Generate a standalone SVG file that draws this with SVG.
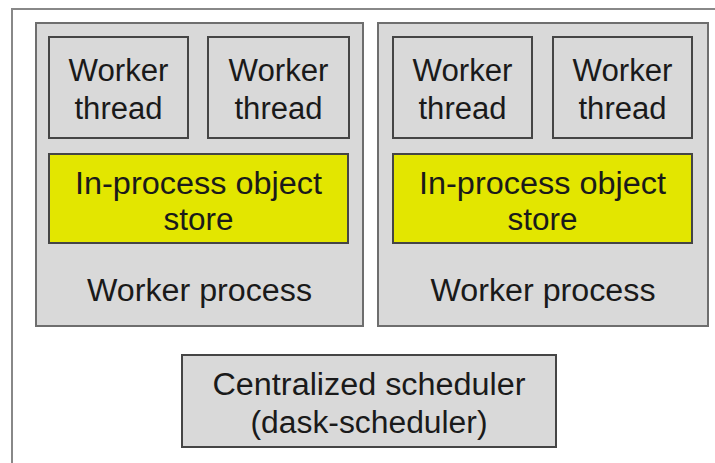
<svg xmlns="http://www.w3.org/2000/svg" width="715" height="463" viewBox="0 0 715 463">
<style>
.frame{fill:#ffffff;stroke:#888888;stroke-width:2}
.proc{fill:#d9d9d9;stroke:#6e6e6e;stroke-width:2}
.thr{fill:#d9d9d9;stroke:#454545;stroke-width:2}
.store{fill:#e3e600;stroke:#454545;stroke-width:2}
.sched{fill:#d9d9d9;stroke:#454545;stroke-width:2}
text{font-family:"Liberation Sans",Arial,sans-serif;font-size:31px;fill:#1a1a1a;text-anchor:middle}
</style>
<rect class="frame" x="12" y="9" width="720" height="470"/>
<g id="worker-process-1">
<rect class="proc" x="36" y="23" width="327" height="303"/>
<text x="199.5" y="301" textLength="225" lengthAdjust="spacingAndGlyphs">Worker process</text>
</g>
<g id="worker-thread-1">
<rect class="thr" x="49" y="37" width="139" height="101"/>
<text x="118.5" y="81" textLength="100" lengthAdjust="spacingAndGlyphs">Worker</text>
<text x="118.5" y="119" textLength="88" lengthAdjust="spacingAndGlyphs">thread</text>
</g>
<g id="worker-thread-2">
<rect class="thr" x="208" y="37" width="141" height="101"/>
<text x="278.5" y="81" textLength="100" lengthAdjust="spacingAndGlyphs">Worker</text>
<text x="278.5" y="119" textLength="88" lengthAdjust="spacingAndGlyphs">thread</text>
</g>
<g id="object-store-1">
<rect class="store" x="49" y="154" width="299" height="89"/>
<text x="198.5" y="194" textLength="247" lengthAdjust="spacingAndGlyphs">In-process object</text>
<text x="198.5" y="230" textLength="70" lengthAdjust="spacingAndGlyphs">store</text>
</g>
<g id="worker-process-2">
<rect class="proc" x="378" y="23" width="330" height="303"/>
<text x="543" y="301" textLength="225" lengthAdjust="spacingAndGlyphs">Worker process</text>
</g>
<g id="worker-thread-3">
<rect class="thr" x="393" y="37" width="139" height="101"/>
<text x="462.5" y="81" textLength="100" lengthAdjust="spacingAndGlyphs">Worker</text>
<text x="462.5" y="119" textLength="88" lengthAdjust="spacingAndGlyphs">thread</text>
</g>
<g id="worker-thread-4">
<rect class="thr" x="553" y="37" width="139" height="101"/>
<text x="622.5" y="81" textLength="100" lengthAdjust="spacingAndGlyphs">Worker</text>
<text x="622.5" y="119" textLength="88" lengthAdjust="spacingAndGlyphs">thread</text>
</g>
<g id="object-store-2">
<rect class="store" x="393" y="154" width="299" height="89"/>
<text x="542.5" y="194" textLength="247" lengthAdjust="spacingAndGlyphs">In-process object</text>
<text x="542.5" y="230" textLength="70" lengthAdjust="spacingAndGlyphs">store</text>
</g>
<g id="scheduler">
<rect class="sched" x="182" y="355" width="374" height="92"/>
<text x="369" y="395" textLength="313" lengthAdjust="spacingAndGlyphs">Centralized scheduler</text>
<text x="369" y="433" textLength="237" lengthAdjust="spacingAndGlyphs">(dask-scheduler)</text>
</g>
<g id="connectors"/>
</svg>
